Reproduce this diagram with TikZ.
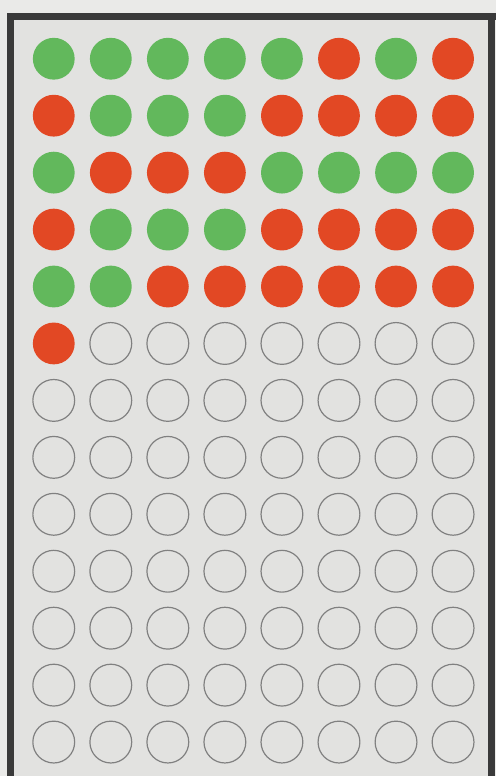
\documentclass[tikz,border=0pt]{standalone}
\definecolor{paper}{RGB}{234,234,232}
\definecolor{board}{RGB}{226,226,224}
\definecolor{frame}{RGB}{58,58,58}
\definecolor{gr}{RGB}{98,184,92}
\definecolor{rd}{RGB}{226,72,36}
\definecolor{ring}{RGB}{128,128,128}
\begin{document}
\begin{tikzpicture}[x=1pt,y=-1pt]
    \fill[paper] (0,0) rectangle (498,779);
    \fill[board] (11,16.5) rectangle (494,779);
    \draw[frame, line width=7pt] (11,779) -- (11,16.5) -- (494,16.5) -- (494,779);
    \draw[frame, line width=7pt] (494,16.5) -- (498,16.5);

    % filled pegs, row by row
    \foreach \r/\row in {0/{gr,gr,gr,gr,gr,rd,gr,rd},
                         1/{rd,gr,gr,gr,rd,rd,rd,rd},
                         2/{gr,rd,rd,rd,gr,gr,gr,gr},
                         3/{rd,gr,gr,gr,rd,rd,rd,rd},
                         4/{gr,gr,rd,rd,rd,rd,rd,rd},
                         5/{rd}} {
        \foreach \k [count=\c from 0] in \row {
            \fill[\k] (54+57.3*\c, 59+57.2*\r) circle (21);
        }
    }

    % empty holes
    \foreach \c in {1,...,7} {
        \draw[ring, line width=1.2pt] (54+57.3*\c, 59+57.2*5) circle (21);
    }
    \foreach \r in {6,...,12} {
        \foreach \c in {0,...,7} {
            \draw[ring, line width=1.2pt] (54+57.3*\c, 59+57.2*\r) circle (21);
        }
    }
\end{tikzpicture}
\end{document}
